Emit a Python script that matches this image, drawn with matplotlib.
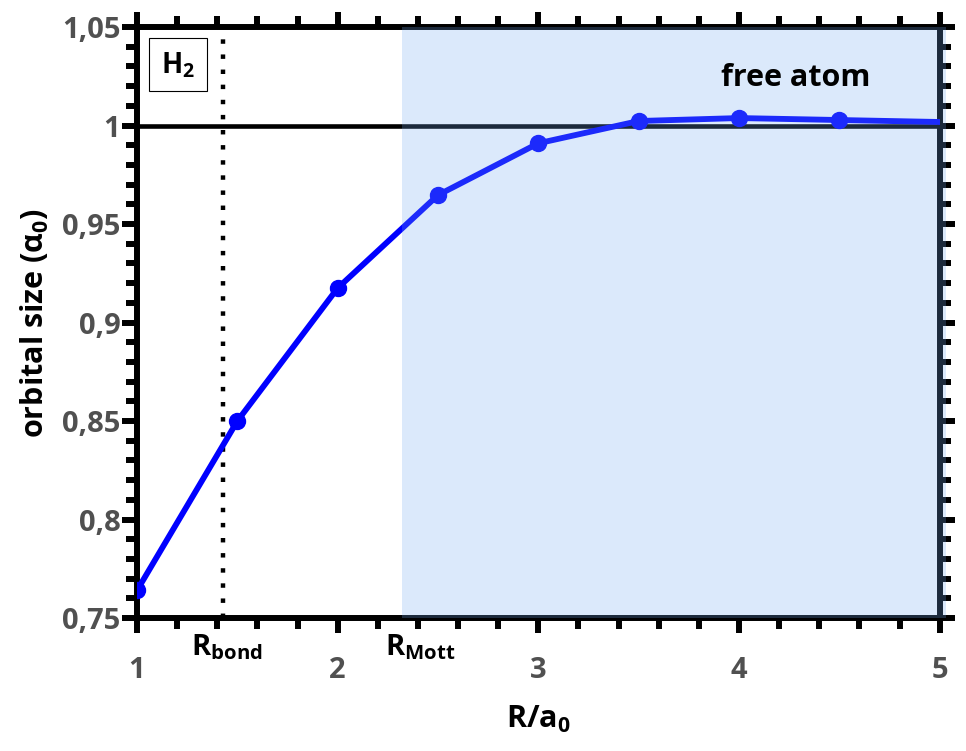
import matplotlib.pyplot as plt
import numpy as np
from matplotlib.ticker import MultipleLocator, FixedLocator, FixedFormatter

plt.rcParams['font.family'] = ['Open Sans', 'DejaVu Sans']
plt.rcParams['font.weight'] = 'bold'
plt.rcParams['mathtext.fontset'] = 'custom'
plt.rcParams['mathtext.rm'] = 'Open Sans:bold'
plt.rcParams['mathtext.bf'] = 'Open Sans:bold'
plt.rcParams['mathtext.it'] = 'Open Sans:bold'

# data
R = [1.0, 1.5, 2.0, 2.5, 3.0, 3.5, 4.0, 4.5, 5.0]
size = [0.764, 0.850, 0.9175, 0.9647, 0.991, 1.0023, 1.0038, 1.0028, 1.0018]
yticks = [0.75, 0.8, 0.85, 0.9, 0.95, 1.0, 1.05]
ytick_labels = ['0,75', '0,8', '0,85', '0,9', '0,95', '1', '1,05']
xticks = [1, 2, 3, 4, 5]
r_bond = 1.43
r_mott = 2.32

fig = plt.figure(figsize=(9.66, 7.51), dpi=100)
ax = fig.add_axes([0.1418, 0.177, 0.831, 0.787])

ax.plot(R, size, color='#0000ff', lw=4.2, marker='o', ms=11.5,
        markevery=list(range(8)), zorder=3, clip_on=True)
ax.axhline(1.0, color='black', lw=3.3, zorder=2)
ax.axvline(r_bond, color='black', lw=3.2, ls=(0, (1, 2.4)), zorder=2)
ax.axvspan(r_mott, 5.03, ymin=0, ymax=1, color=(112/255, 168/255, 240/255),
           alpha=0.25, lw=0, zorder=5, clip_on=False)

ax.set_xlim(1, 5)
ax.set_ylim(0.75, 1.05)

ax.xaxis.set_major_locator(FixedLocator(xticks))
ax.xaxis.set_minor_locator(MultipleLocator(0.2))
ax.yaxis.set_major_locator(FixedLocator(yticks))
ax.yaxis.set_major_formatter(FixedFormatter(ytick_labels))
ax.yaxis.set_minor_locator(MultipleLocator(0.01))

for s in ax.spines.values():
    s.set_linewidth(4.3)
ax.tick_params(which='both', direction='out', width=4.3, top=True, right=True,
               labelsize=21, labelcolor='#505050')
ax.tick_params(which='major', length=11)
ax.tick_params(which='minor', length=8)
ax.tick_params(axis='x', which='major', pad=16)
ax.tick_params(axis='y', which='major', pad=1)

ax.set_xlabel('R/a$_0$', fontsize=22, fontweight='bold', labelpad=14)
ax.set_ylabel('orbital size (α$_0$)', fontsize=22, fontweight='bold', labelpad=8)

ax.text(4.28, 1.024, 'free atom', fontsize=22, fontweight='bold',
        ha='center', va='center', zorder=6)
ax.text(0.051, 0.936, 'H$_2$', transform=ax.transAxes, fontsize=20,
        fontweight='bold', ha='center', va='center',
        bbox=dict(boxstyle='square,pad=0.42', fc='white', ec='black', lw=0.8))

ax.text(r_bond + 0.02, 0.7425, 'R$_{bond}$', fontsize=21, ha='center', va='top',
        clip_on=False)
ax.text(r_mott + 0.09, 0.7425, 'R$_{Mott}$', fontsize=21, ha='center', va='top',
        clip_on=False)

plt.savefig('out.png', dpi=100)
